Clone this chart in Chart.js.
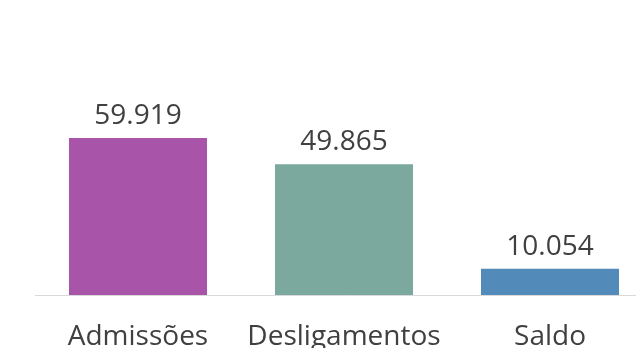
<!DOCTYPE html>
<html lang="pt-BR">
<head>
<meta charset="utf-8">
<script src="https://cdn.jsdelivr.net/npm/chart.js@4"></script>
<style>
    html, body { margin: 0; padding: 0; background: #fff; overflow: hidden; }
    #wrap { width: 680px; height: 348px; }
</style>
</head>
<body>
<div id="wrap"><canvas id="saldo-chart"></canvas></div>
<script>
// Movimentação do emprego: admissões, desligamentos e saldo
const categorias = ['Admissões', 'Desligamentos', 'Saldo'];
const valores = [59919, 49865, 10054];
const cores = ['#a854a8', '#7ba99d', '#528ab9'];

const FONTE = '"Open Sans", "Noto Sans", sans-serif';
const COR_TEXTO = '#404040';

function formatar(n) {
    return String(n).replace(/\B(?=(\d{3})+(?!\d))/g, '.');
}

// rótulos de valor acima de cada barra
const rotulosValor = {
    id: 'rotulosValor',
    afterDatasetsDraw(chart) {
        const ctx = chart.ctx;
        const meta = chart.getDatasetMeta(0);
        ctx.save();
        ctx.font = '28px ' + FONTE;
        ctx.fillStyle = COR_TEXTO;
        ctx.textAlign = 'center';
        ctx.textBaseline = 'alphabetic';
        meta.data.forEach((bar, i) => {
            ctx.fillText(formatar(valores[i]), bar.x, bar.y - 14);
        });
        ctx.restore();
    }
};

const ctx = document.getElementById('saldo-chart').getContext('2d');
new Chart(ctx, {
    type: 'bar',
    data: {
        labels: categorias,
        datasets: [{
            data: valores,
            backgroundColor: cores,
            borderWidth: 0,
            barPercentage: 0.67,
            categoryPercentage: 1
        }]
    },
    options: {
        responsive: true,
        maintainAspectRatio: false,
        animation: false,
        layout: {
            padding: { left: 35, right: 27, top: 33, bottom: 0 }
        },
        plugins: {
            legend: { display: false },
            tooltip: { enabled: false }
        },
        scales: {
            y: {
                display: false,
                min: 0,
                max: 100000
            },
            x: {
                grid: { display: false, drawTicks: false },
                border: { display: true, color: '#d9d9d9', width: 1 },
                ticks: {
                    color: COR_TEXTO,
                    font: { family: FONTE, size: 28 },
                    padding: 25,
                    maxRotation: 0
                },
                afterFit(scale) {
                    scale.height = 53;
                }
            }
        }
    },
    plugins: [rotulosValor]
});
</script>
</body>
</html>
